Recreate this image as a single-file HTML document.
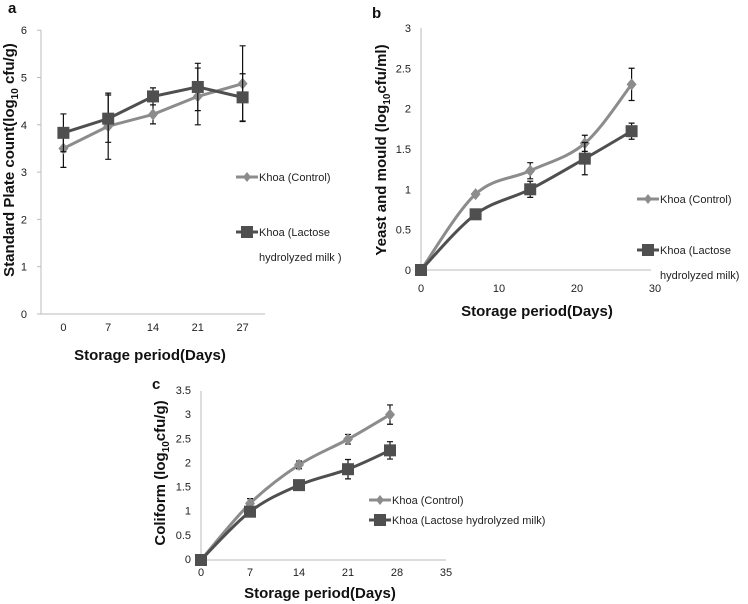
<!DOCTYPE html>
<html><head><meta charset="utf-8"><style>
body{margin:0;background:#fff}
svg{display:block;font-family:"Liberation Sans",sans-serif}
.t{font-size:11px;fill:#222}
.ti{font-size:15px;font-weight:bold;fill:#111}
.lg{font-size:11px;fill:#222}
</style></head><body>
<svg id="c" width="748" height="604"></svg>
<script>
const aDays=[0,7,14,21,27];
const aCtrl=[3.5,3.97,4.22,4.6,4.87];
const aCtrlErr=[0.4,0.7,0.2,0.6,0.8];
const aLac=[3.83,4.13,4.6,4.8,4.58];
const aLacErr=[0.4,0.5,0.18,0.5,0.5];
const aYTicks=[0,1,2,3,4,5,6];
const bDays=[0,7,14,21,27];
const bCtrl=[0,0.94,1.23,1.57,2.3];
const bCtrlErr=[0,0,0.1,0.1,0.2];
const bLac=[0,0.69,1.0,1.38,1.72];
const bLacErr=[0,0,0.1,0.2,0.1];
const bYTicks=[0,0.5,1,1.5,2,2.5,3];
const bXTicks=[0,10,20,30];
const cDays=[0,7,14,21,27];
const cCtrl=[0,1.17,1.97,2.5,3.01];
const cCtrlErr=[0,0.1,0.08,0.1,0.2];
const cLac=[0,1.0,1.55,1.88,2.27];
const cLacErr=[0,0.05,0.07,0.2,0.18];
const cYTicks=[0,0.5,1,1.5,2,2.5,3,3.5];
const cXTicks=[0,7,14,21,28,35];

const svg=document.getElementById('c');
const NS='http://www.w3.org/2000/svg';
function mk(tag,at,parent,txt){const e=document.createElementNS(NS,tag);for(const k in at)e.setAttribute(k,at[k]);if(txt!==undefined)e.textContent=txt;(parent||svg).appendChild(e);return e;}
const C1='#8c8c8c',C2='#4f4f4f';
function path(pts,smooth){let d='M'+pts[0][0]+','+pts[0][1];
 for(let i=1;i<pts.length;i++){if(!smooth){d+='L'+pts[i][0]+','+pts[i][1];continue;}
  const p0=pts[Math.max(0,i-2)],p1=pts[i-1],p2=pts[i],p3=pts[Math.min(pts.length-1,i+1)];
  const t=1/6;d+='C'+(p1[0]+(p2[0]-p0[0])*t)+','+(p1[1]+(p2[1]-p0[1])*t)+' '+(p2[0]-(p3[0]-p1[0])*t)+','+(p2[1]-(p3[1]-p1[1])*t)+' '+p2[0]+','+p2[1];}
 return d;}
function series(g,xs,ys,errs,X,Y,color,shape,smooth,name){
 const pts=xs.map((x,i)=>[X(x,i),Y(ys[i])]);
 const s=mk('g',{},g);
 
 
 mk('path',{d:path(pts,smooth),fill:'none',stroke:color,'stroke-width':3},s);
 pts.forEach((p,i)=>{
  if(errs[i]>0){const y1=Y(ys[i]+errs[i]),y2=Y(ys[i]-errs[i]);
   const e=mk('path',{d:`M${p[0]},${y1}V${y2}M${p[0]-3},${y1}h6M${p[0]-3},${y2}h6`,stroke:'#111','stroke-width':1.2,fill:'none'},s);
   
   }
  let m;
  if(shape==='sq')m=mk('rect',{x:p[0]-6,y:p[1]-6,width:12,height:12,fill:color},s);
  else m=mk('path',{d:`M${p[0]},${p[1]-6}L${p[0]+5},${p[1]}L${p[0]},${p[1]+6}L${p[0]-5},${p[1]}Z`,fill:color},s);
  
  
 });}
function legend(g,x,y,color,shape,lines,fs){
 const l=mk('g',{},g);
 
 
 mk('line',{x1:x,y1:y,x2:x+22,y2:y,stroke:color,'stroke-width':3},l);
 if(shape==='sq')mk('rect',{x:x+5,y:y-6,width:12,height:12,fill:color},l);
 else mk('path',{d:`M${x+11},${y-5}L${x+15},${y}L${x+11},${y+5}L${x+7},${y}Z`,fill:color},l);
 lines.forEach((t,i)=>mk('text',{x:x+23,y:y+4+i*25,class:'lg','font-size':fs},l,t));}
function yTitle(g,x,y,parts){const t=mk('text',{class:'ti',transform:`translate(${x},${y}) rotate(-90)`,'text-anchor':'middle'},g);
 
 parts.forEach(p=>{mk('tspan',p.sub?{'font-size':10,dy:4}:(p.up?{dy:-4}:{}),t,p.t);});}

// Panel a
(function(){
 const g=mk('g',{});
 const x0=41,x1=265,y0=314,k=47.3;const bw=(x1-x0)/aDays.length;
 const X=(d,i)=>x0+bw*(i+0.5),Y=v=>y0-v*k;
 mk('line',{x1:x0,y1:Y(6),x2:x0,y2:y0,stroke:'#bbb'},g);
 mk('line',{x1:x0-4,y1:y0,x2:x1,y2:y0,stroke:'#bbb'},g);
 aYTicks.forEach(v=>{mk('line',{x1:x0-4,y1:Y(v),x2:x0,y2:Y(v),stroke:'#bbb'},g);mk('text',{x:x0-14,y:Y(v)+4,class:'t','text-anchor':'end'},g,v);});
 aDays.forEach((d,i)=>mk('text',{x:X(d,i),y:331,class:'t','text-anchor':'middle'},g,d));
 mk('text',{x:150,y:360,class:'ti','text-anchor':'middle'},g,'Storage period(Days)');
 yTitle(g,14,160,[{t:'Standard Plate count(log'},{t:'10',sub:true},{t:' cfu/g)',up:true}]);
 mk('text',{x:8,y:13,class:'ti','font-size':16},g,'a');
 series(g,aDays,aCtrl,aCtrlErr,X,Y,C1,'di',false,'control');
 series(g,aDays,aLac,aLacErr,X,Y,C2,'sq',false,'lactose');
 legend(g,236,177,C1,'di',['Khoa (Control)'],11);
 legend(g,236,232,C2,'sq',['Khoa (Lactose','hydrolyzed milk )'],11);
})();
// Panel b
(function(){
 const g=mk('g',{});
 const x0=421,y0=270,k=80.7,kx=7.8;
 const X=d=>x0+d*kx,Y=v=>y0-v*k;
 mk('line',{x1:x0,y1:Y(3),x2:x0,y2:y0,stroke:'#bbb'},g);
 mk('line',{x1:x0,y1:y0,x2:651,y2:y0,stroke:'#bbb'},g);
 bYTicks.forEach(v=>mk('text',{x:x0-10,y:Y(v)+4,class:'t','text-anchor':'end'},g,v));
 bXTicks.forEach(v=>mk('text',{x:X(v),y:292,class:'t','text-anchor':'middle'},g,v));
 mk('text',{x:537,y:316,class:'ti','text-anchor':'middle'},g,'Storage period(Days)');
 yTitle(g,386,150,[{t:'Yeast and mould (log'},{t:'10',sub:true},{t:'cfu/ml)',up:true}]);
 mk('text',{x:372,y:18,class:'ti','font-size':16},g,'b');
 series(g,bDays,bCtrl,bCtrlErr,X,Y,C1,'di',true,'control');
 series(g,bDays,bLac,bLacErr,X,Y,C2,'sq',true,'lactose');
 legend(g,637,199,C1,'di',['Khoa (Control)'],11);
 legend(g,637,250,C2,'sq',['Khoa (Lactose','hydrolyzed milk)'],11);
})();
// Panel c
(function(){
 const g=mk('g',{});
 const x0=201,y0=560,k=48.3,kx=7;
 const X=d=>x0+d*kx,Y=v=>y0-v*k;
 mk('line',{x1:x0,y1:Y(3.5),x2:x0,y2:y0,stroke:'#bbb'},g);
 mk('line',{x1:x0,y1:y0,x2:446,y2:y0,stroke:'#bbb'},g);
 cYTicks.forEach(v=>mk('text',{x:x0-10,y:Y(v)+3,class:'t','text-anchor':'end','font-size':9},g,v));
 cXTicks.forEach(v=>mk('text',{x:X(v),y:576,class:'t','text-anchor':'middle','font-size':9},g,v));
 mk('text',{x:320,y:598,class:'ti','text-anchor':'middle','font-size':16},g,'Storage period(Days)');
 yTitle(g,165,473,[{t:'Coliform (log'},{t:'10',sub:true},{t:'cfu/g)',up:true}]);
 mk('text',{x:152,y:389,class:'ti','font-size':16},g,'c');
 series(g,cDays,cCtrl,cCtrlErr,X,Y,C1,'di',true,'control');
 series(g,cDays,cLac,cLacErr,X,Y,C2,'sq',true,'lactose');
 legend(g,369,500,C1,'di',['Khoa (Control)'],8);
 legend(g,369,520,C2,'sq',['Khoa (Lactose hydrolyzed milk)'],8);
})();
</script>
</body></html>
